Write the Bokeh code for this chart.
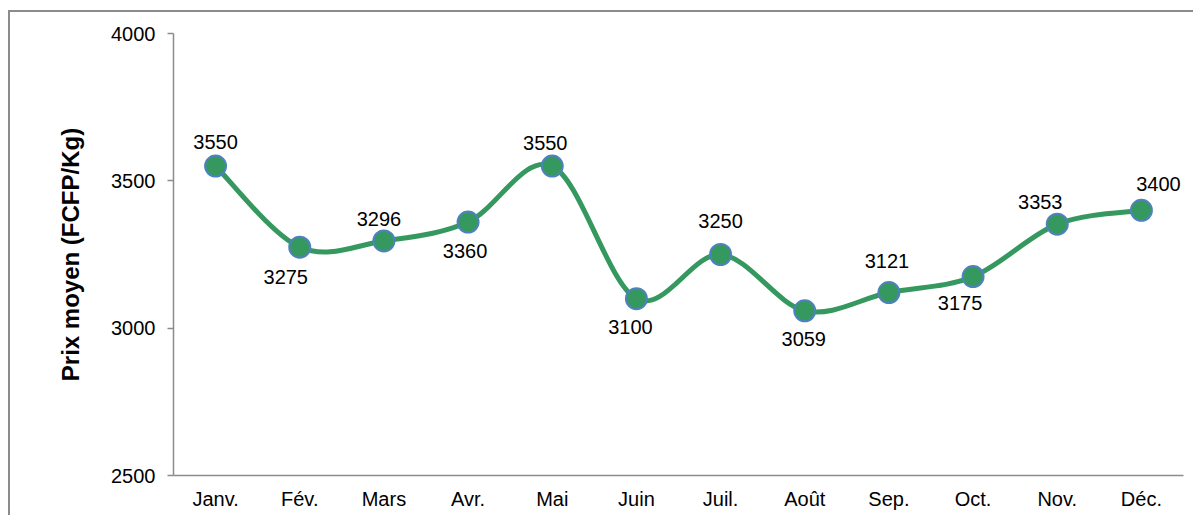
from bokeh.plotting import figure
from bokeh.models import ColumnDataSource, FixedTicker, Range1d
from bokeh.embed import file_html
from bokeh.resources import INLINE

months = ["Janv.", "Fév.", "Mars", "Avr.", "Mai", "Juin", "Juil.", "Août", "Sep.", "Oct.", "Nov.", "Déc."]
prices = [3550, 3275, 3296, 3360, 3550, 3100, 3250, 3059, 3121, 3175, 3353, 3400]
y_ticks = [2500, 3000, 3500, 4000]

# label placement (pixels, screen) - style only
lab_dx = [0, -14, -5, -3, -7, -6, 0, -1, -2, -13, -17, 17]
lab_dy = [-24, 30, -22, 29, -23, 28, -34, 28, -32, 26, -22, -26]

GREEN = "#35995F"
BLUE = "#4F81BD"
GRAY = "#8C8C8C"
FONT = "Liberation Sans"

xs = list(range(len(months)))

p = figure(width=1185, height=505, output_backend="svg", toolbar_location=None,
           x_range=Range1d(-0.5, len(months) - 0.5), y_range=Range1d(2500, 4000),
           min_border_left=163, min_border_top=21, min_border_right=12, min_border_bottom=42)
p.styles = {"border-left": f"2px solid {GRAY}", "border-top": f"2px solid {GRAY}",
            "margin-left": "8px", "margin-top": "10px"}
p.outline_line_color = None
p.grid.grid_line_color = None
p.background_fill_color = "white"
p.border_fill_color = "white"

# smooth line (Catmull-Rom style bezier segments built from the data)
n = len(prices)
x0s, y0s, x1s, y1s, cx0, cy0, cx1, cy1 = [], [], [], [], [], [], [], []
for i in range(n - 1):
    pm = max(i - 1, 0)
    pp = min(i + 2, n - 1)
    x0s.append(xs[i]); y0s.append(prices[i])
    x1s.append(xs[i + 1]); y1s.append(prices[i + 1])
    cx0.append(xs[i] + (xs[i + 1] - xs[pm]) / 6.0)
    cy0.append(prices[i] + (prices[i + 1] - prices[pm]) / 6.0)
    cx1.append(xs[i + 1] - (xs[pp] - xs[i]) / 6.0)
    cy1.append(prices[i + 1] - (prices[pp] - prices[i]) / 6.0)
bez = ColumnDataSource(dict(x0=x0s, y0=y0s, x1=x1s, y1=y1s, cx0=cx0, cy0=cy0, cx1=cx1, cy1=cy1))
p.bezier(x0="x0", y0="y0", x1="x1", y1="y1", cx0="cx0", cy0="cy0", cx1="cx1", cy1="cy1",
         source=bez, line_color=GREEN, line_width=5, line_cap="round")

src = ColumnDataSource(dict(x=xs, y=prices, lab=[str(v) for v in prices], dx=lab_dx, dy=lab_dy))
p.scatter("x", "y", source=src, size=21, fill_color=GREEN, line_color=BLUE, line_width=2)
p.text("x", "y", text="lab", source=src, x_offset="dx", y_offset="dy",
       text_align="center", text_baseline="middle", text_font_size="20px",
       text_color="#000000", text_font={"value": FONT})

# axes
xa = p.xaxis[0]
xa.ticker = FixedTicker(ticks=xs)
xa.major_label_overrides = {i: m for i, m in enumerate(months)}
xa.major_tick_out = 0
xa.major_tick_in = 0
xa.minor_tick_out = 0
xa.minor_tick_in = 0
xa.axis_line_color = GRAY
xa.axis_line_width = 1.5
xa.major_label_text_font = FONT
xa.major_label_text_font_size = "20px"
xa.major_label_text_color = "#000000"
xa.major_label_standoff = 12

ya = p.yaxis[0]
ya.ticker = FixedTicker(ticks=y_ticks)
ya.major_tick_out = 6
ya.major_tick_in = 0
ya.minor_tick_out = 0
ya.minor_tick_in = 0
ya.major_tick_line_color = GRAY
ya.major_tick_line_width = 1.5
ya.axis_line_color = GRAY
ya.axis_line_width = 1.5
ya.major_label_text_font = FONT
ya.major_label_text_font_size = "20px"
ya.major_label_text_color = "#000000"
ya.major_label_standoff = 12
ya.axis_label = "Prix moyen (FCFP/Kg)"
ya.axis_label_text_font = FONT
ya.axis_label_text_font_style = "bold"
ya.axis_label_text_font_size = "24px"
ya.axis_label_text_color = "#000000"
ya.axis_label_standoff = 24

open("out.html", "w").write(file_html(p, INLINE))
